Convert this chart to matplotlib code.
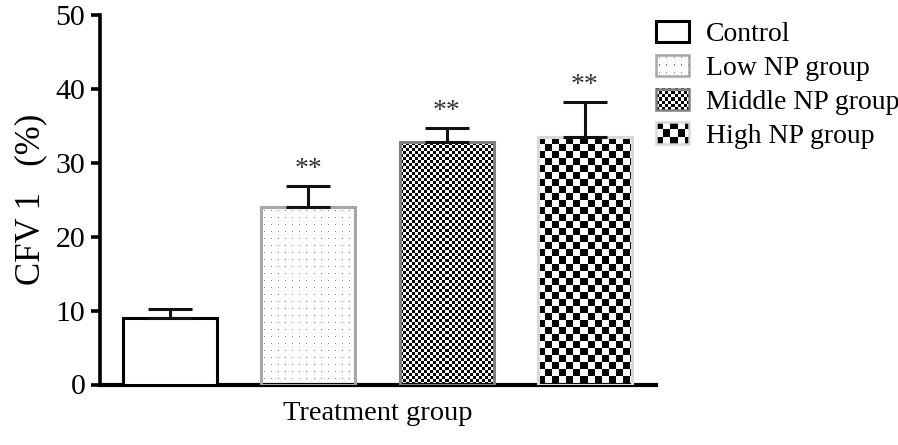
import numpy as np
import matplotlib
matplotlib.use("Agg")
import matplotlib.pyplot as plt
from matplotlib.patches import Rectangle
from matplotlib.legend_handler import HandlerBase
from matplotlib.image import BboxImage
from matplotlib.transforms import Bbox, TransformedBbox

plt.rcParams["font.family"] = ["Liberation Serif", "DejaVu Serif"]

# data
groups = ["Control", "Low NP group", "Middle NP group", "High NP group"]
means = [8.96, 24.02, 32.86, 33.45]
sem = [1.22, 2.84, 1.89, 4.74]
signif = ["", "**", "**", "**"]

# look of each group
patterns = [None, "dots", "fine", "coarse"]
edges = ["black", "#a6a6a6", "#808080", "#d9d9d9"]


def make_pattern(kind, w, h):
    """Grey-level image (1 = white) of size h x w pixels."""
    w, h = max(int(round(w)), 1), max(int(round(h)), 1)
    i, j = np.indices((h, w))
    if kind == "dots":
        img = np.ones((h, w))
        img[(i % 7 == 3) & (j % 7 == 3)] = 0.55
        return img
    cell = 3 if kind == "fine" else 7
    return ((i // cell + j // cell) % 2).astype(float)


class PatternHandler(HandlerBase):
    def create_artists(self, legend, orig_handle, xdescent, ydescent,
                       width, height, fontsize, trans):
        artists = []
        kind = orig_handle.get_gid()
        if kind:
            bb = TransformedBbox(Bbox.from_bounds(-xdescent, -ydescent, width, height), trans)
            im = BboxImage(bb, cmap="gray", norm=plt.Normalize(0, 1), interpolation="nearest")
            dpi = legend.figure.dpi
            im.set_data(make_pattern(kind, width * dpi / 72, height * dpi / 72))
            artists.append(im)
        rect = Rectangle((-xdescent, -ydescent), width, height,
                         facecolor="white" if not kind else "none",
                         edgecolor=orig_handle.get_edgecolor(),
                         linewidth=orig_handle.get_linewidth(), transform=trans)
        artists.append(rect)
        return artists


fig = plt.figure(figsize=(8.98, 4.45), dpi=100)
ax = fig.add_axes([100 / 898, (445 - 384.5) / 445, 556 / 898, 369.5 / 445])

x = np.arange(len(groups))
ax.set_xlim(-0.506, 3.514)
ax.set_ylim(0, 50)

bars = ax.bar(x, means, width=0.68,
              color=["white" if p is None else "none" for p in patterns],
              edgecolor=edges, linewidth=2.2, zorder=3)

# fill the patterned bars with a pixel pattern clipped to each bar
for bar, kind in zip(bars, patterns):
    if kind is None:
        continue
    ext = bar.get_window_extent()
    x0 = bar.get_x()
    im = ax.imshow(make_pattern(kind, ext.width, ext.height), cmap="gray", vmin=0, vmax=1,
                   extent=(x0, x0 + bar.get_width(), 0, bar.get_height()),
                   aspect="auto", interpolation="nearest", zorder=2)
    im.set_clip_path(bar)

ax.set_xlim(-0.506, 3.514)
ax.set_ylim(0, 50)

ax.errorbar(x, means, yerr=[np.zeros(len(sem)), sem], fmt="none", ecolor="#111111",
            elinewidth=2.2, capsize=16, capthick=2.2, zorder=4)

for xi, m, e, s in zip(x, means, sem, signif):
    if s:
        ax.annotate(s, (xi, m + e), xytext=(0, 3), textcoords="offset points",
                    ha="center", va="bottom", fontsize=20, color="#333333")

ax.spines["top"].set_visible(False)
ax.spines["right"].set_visible(False)
ax.spines["left"].set_linewidth(2.6)
ax.spines["bottom"].set_linewidth(3.0)
ax.set_xticks([])
ax.set_yticks(np.arange(0, 51, 10))
ax.tick_params(axis="y", length=6.5, width=2.6, labelsize=21.5, pad=4)
ax.set_ylabel("CFV 1   (%)", fontsize=25, labelpad=6)
ax.set_xlabel("Treatment group", fontsize=20.5, labelpad=12)

handles = [Rectangle((0, 0), 1, 1, edgecolor=c, linewidth=2.2 if p is None else 1.8, gid=p)
           for c, p in zip(edges, patterns)]
fig.legend(handles, groups, handler_map={Rectangle: PatternHandler()},
           loc="upper left", bbox_to_anchor=(656 / 898, 1 - 21 / 445),
           frameon=False, fontsize=20, borderpad=0, borderaxespad=0, handlelength=1.2,
           handleheight=0.8, handletextpad=0.6, labelspacing=0.27)

fig.savefig("out.png", dpi=100)
